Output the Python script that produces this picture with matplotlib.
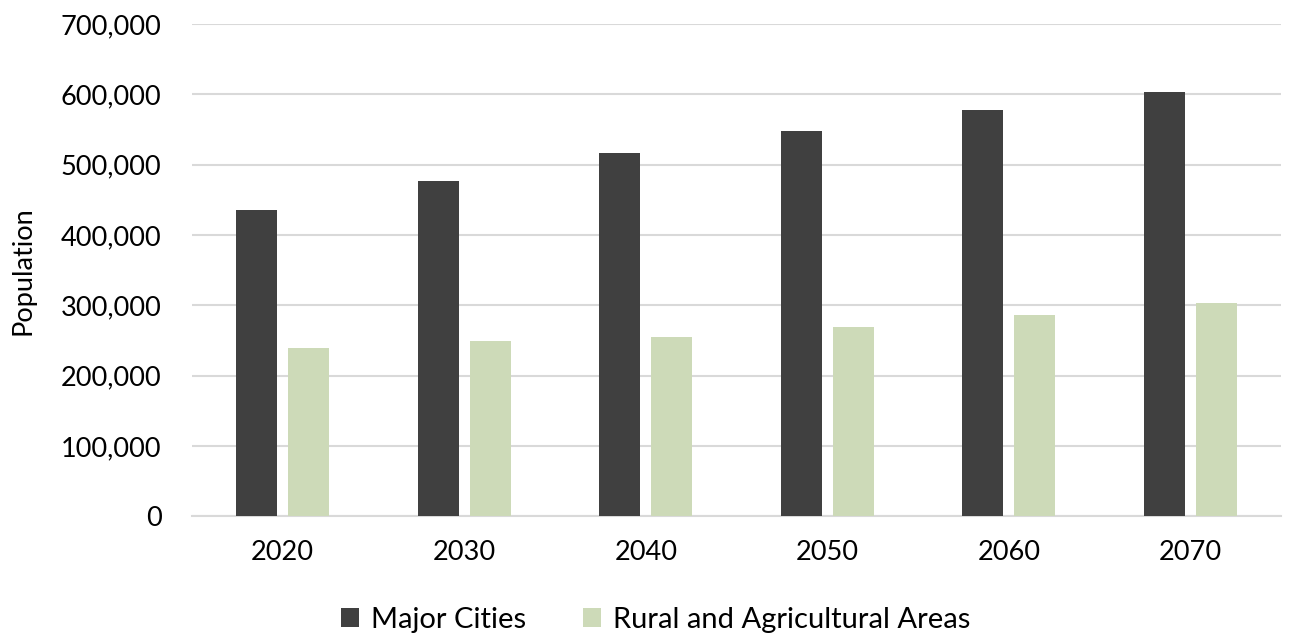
import matplotlib
matplotlib.use("Agg")
import matplotlib.pyplot as plt
import numpy as np
from matplotlib.ticker import FuncFormatter

years = ["2020", "2030", "2040", "2050", "2060", "2070"]
major_cities = [436000, 477000, 517000, 548000, 578000, 604000]
rural_areas = [239000, 249000, 255000, 270000, 286000, 303000]
series_names = ["Major Cities", "Rural and Agricultural Areas"]
y_ticks = [0, 100000, 200000, 300000, 400000, 500000, 600000, 700000]

plt.rcParams['font.family'] = ['Lato', 'DejaVu Sans']

fig = plt.figure(figsize=(12.91, 6.37), dpi=100)
ax = fig.add_axes([0.1487, 0.1892, 0.8436, 0.7731])

x = np.arange(len(years))
w = 0.226
off = 0.143
ax.bar(x - off, major_cities, width=w, color="#404040", label=series_names[0], zorder=3)
ax.bar(x + off, rural_areas, width=w, color="#cddab8", label=series_names[1], zorder=3)

ax.set_xlim(-0.5, len(years) - 0.5)
ax.set_ylim(0, 700000)
ax.set_yticks(y_ticks)
ax.yaxis.set_major_formatter(FuncFormatter(lambda v, p: f"{int(v):,}"))
ax.set_xticks(x)
ax.set_xticklabels(years)
ax.grid(axis="y", color="#d9d9d9", linewidth=1.5, zorder=0)
for s in ["top", "right", "left"]:
    ax.spines[s].set_visible(False)
ax.spines["bottom"].set_color("#d9d9d9")
ax.spines["bottom"].set_linewidth(1.5)
ax.tick_params(axis="both", length=0, labelsize=19.5, colors="#000000")
ax.tick_params(axis="y", pad=22)
ax.tick_params(axis="x", pad=17)
ax.set_ylabel("Population", fontsize=19.5)
ax.yaxis.set_label_coords(-0.144, 0.5)

fig.legend(loc="center", bbox_to_anchor=(0.508, 0.027), ncol=2, frameon=False,
           fontsize=21, handlelength=0.62, handleheight=0.62, handletextpad=0.4,
           columnspacing=1.95, borderpad=0)

fig.savefig("out.png", dpi=100)
